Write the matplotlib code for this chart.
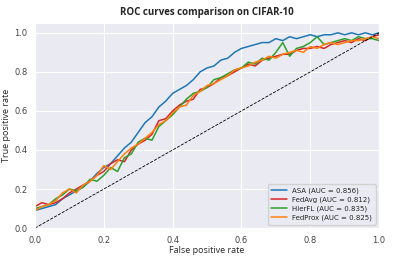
import matplotlib
matplotlib.use("Agg")
import matplotlib.pyplot as plt
import seaborn as sns

sns.set_style("darkgrid")

# false positive rate grid (step 0.02)
fpr = [0.00, 0.02, 0.04, 0.06, 0.08, 0.10, 0.12, 0.14, 0.16, 0.18,
       0.20, 0.22, 0.24, 0.26, 0.28, 0.30, 0.32, 0.34, 0.36, 0.38,
       0.40, 0.42, 0.44, 0.46, 0.48, 0.50, 0.52, 0.54, 0.56, 0.58,
       0.60, 0.62, 0.64, 0.66, 0.68, 0.70, 0.72, 0.74, 0.76, 0.78,
       0.80, 0.82, 0.84, 0.86, 0.88, 0.90, 0.92, 0.94, 0.96, 0.98, 1.00]

tpr_asa = [0.09, 0.10, 0.11, 0.12, 0.15, 0.17, 0.19, 0.21, 0.24, 0.28,
           0.31, 0.33, 0.37, 0.41, 0.44, 0.49, 0.54, 0.57, 0.62, 0.65,
           0.69, 0.71, 0.73, 0.76, 0.80, 0.82, 0.83, 0.86, 0.87, 0.90,
           0.92, 0.93, 0.94, 0.95, 0.95, 0.97, 0.96, 0.98, 0.97, 0.98,
           0.99, 0.98, 0.99, 0.99, 1.00, 0.99, 1.00, 0.99, 1.00, 0.99, 1.00]

tpr_fedavg = [0.11, 0.13, 0.12, 0.13, 0.15, 0.18, 0.20, 0.22, 0.24, 0.27,
              0.29, 0.33, 0.35, 0.34, 0.40, 0.43, 0.45, 0.48, 0.55, 0.56,
              0.60, 0.63, 0.65, 0.66, 0.71, 0.72, 0.74, 0.77, 0.78, 0.80,
              0.82, 0.84, 0.83, 0.86, 0.87, 0.88, 0.89, 0.89, 0.91, 0.92,
              0.92, 0.93, 0.92, 0.94, 0.95, 0.96, 0.95, 0.97, 0.96, 0.98, 0.99]

tpr_hierfl = [0.10, 0.11, 0.12, 0.15, 0.17, 0.20, 0.19, 0.21, 0.25, 0.24,
              0.27, 0.31, 0.29, 0.36, 0.38, 0.44, 0.46, 0.45, 0.52, 0.55,
              0.58, 0.62, 0.66, 0.69, 0.70, 0.72, 0.76, 0.77, 0.79, 0.81,
              0.82, 0.85, 0.84, 0.87, 0.86, 0.90, 0.95, 0.88, 0.92, 0.93,
              0.95, 0.98, 0.94, 0.95, 0.96, 0.97, 0.96, 0.98, 0.97, 0.97, 0.96]

tpr_fedprox = [0.09, 0.11, 0.12, 0.14, 0.18, 0.20, 0.18, 0.22, 0.24, 0.27,
               0.32, 0.30, 0.34, 0.38, 0.41, 0.43, 0.46, 0.49, 0.53, 0.55,
               0.59, 0.62, 0.63, 0.68, 0.70, 0.73, 0.74, 0.76, 0.78, 0.81,
               0.82, 0.83, 0.85, 0.86, 0.88, 0.87, 0.89, 0.90, 0.91, 0.90,
               0.93, 0.92, 0.94, 0.95, 0.94, 0.95, 0.96, 0.96, 0.97, 0.98, 0.97]

labels = ["ASA (AUC = 0.856)", "FedAvg (AUC = 0.812)",
          "HierFL (AUC = 0.835)", "FedProx (AUC = 0.825)"]
colors = ["#1f77b4", "#d62728", "#2ca02c", "#ff7f0e"]

fig = plt.figure(figsize=(3.97, 2.56), dpi=100)
ax = fig.add_axes([0.088, 0.109, 0.867, 0.801])

for tpr, lab, col in zip([tpr_asa, tpr_fedavg, tpr_hierfl, tpr_fedprox], labels, colors):
    ax.plot(fpr, tpr, color=col, lw=1.1, label=lab)

# chance line
ax.plot([0, 1], [0, 1], "k--", lw=0.6)

ax.set_xlim(0, 1)
ax.set_ylim(0, 1.05)
ax.tick_params(labelsize=6, pad=2, colors="#444444")
ax.set_xlabel("False positive rate", fontsize=6.5, family="Open Sans", labelpad=1)
ax.set_ylabel("True positive rate", fontsize=6.5, family="Open Sans", labelpad=2)
ax.set_title("ROC curves comparison on CIFAR-10", fontsize=7, family="Open Sans",
             fontweight="bold", pad=6)
ax.legend(loc="lower right", fontsize=5.0, handlelength=2.2, borderpad=0.5, labelspacing=0.35)

fig.savefig("out.png", dpi=100)
